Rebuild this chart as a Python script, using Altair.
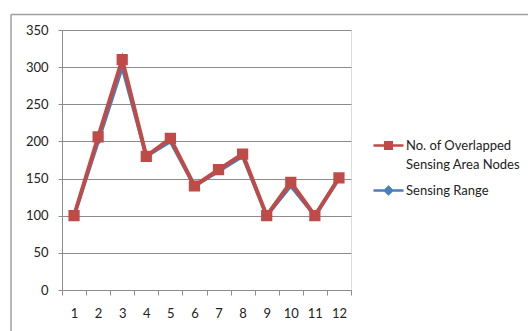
import altair as alt
import pandas as pd

# Node index along the x axis
node_ids = [1, 2, 3, 4, 5, 6, 7, 8, 9, 10, 11, 12]

# Series values
overlapped_nodes = [100, 206, 310, 180, 204, 140, 162, 183, 100, 145, 100, 151]
sensing_range = [100, 200, 300, 180, 200, 140, 160, 180, 100, 140, 100, 150]

SERIES_RED = "No. of Overlapped Sensing Area Nodes"
SERIES_BLUE = "Sensing Range"
RED = "#BE4B48"
BLUE = "#4A7EBB"
GRID = "#8C8C8C"
FONT = "Lato"
TEXT = "#222222"
FONT_SIZE = 13

rows = []
for i, v in zip(node_ids, sensing_range):
    rows.append({"node": i, "value": v, "series": SERIES_BLUE})
for i, v in zip(node_ids, overlapped_nodes):
    rows.append({"node": i, "value": v, "series": SERIES_RED})
df = pd.DataFrame(rows)

# Line-with-marker glyphs; the open horizontal stroke only shows where stroked (legend)
SQUARE_GLYPH = "M-1,0H1M-0.22,-0.22H0.22V0.22H-0.22Z"
DIAMOND_GLYPH = "M-1,0H1M0,-0.24L0.24,0L0,0.24L-0.24,0Z"

DOMAIN = [SERIES_RED, SERIES_BLUE]
color_scale = alt.Scale(domain=DOMAIN, range=[RED, BLUE])
shape_scale = alt.Scale(domain=DOMAIN, range=[SQUARE_GLYPH, DIAMOND_GLYPH])

x_enc = alt.X(
    "node:O",
    scale=alt.Scale(type="band", paddingInner=0, paddingOuter=0),
    axis=alt.Axis(
        title=None, labelAngle=0, tickBand="extent", tickSize=5, tickColor=GRID,
        domainColor=GRID, labelPadding=12, labelFont=FONT, labelFontSize=FONT_SIZE,
        labelColor=TEXT, grid=False,
    ),
)
y_enc = alt.Y(
    "value:Q",
    scale=alt.Scale(domain=[0, 350], nice=False),
    axis=alt.Axis(
        title=None, values=[0, 50, 100, 150, 200, 250, 300, 350], grid=True,
        gridColor=GRID, gridWidth=1, tickSize=4, tickColor=GRID, domainColor=GRID,
        labelPadding=10, labelFont=FONT, labelFontSize=FONT_SIZE, labelColor=TEXT,
    ),
)

legend = alt.Legend(
    title=None,
    orient="none",
    legendX=310,
    legendY=99,
    padding=0,
    labelFont=FONT,
    labelFontSize=FONT_SIZE,
    labelColor=TEXT,
    labelOffset=1,
    labelBaseline="middle",
    labelLimit=200,
    rowPadding=2,
    symbolSize=900,
    symbolStrokeWidth=2.5,
    symbolOpacity=1,
    labelExpr=(
        "datum.label == 'No. of Overlapped Sensing Area Nodes' ? "
        "['No. of Overlapped', 'Sensing Area Nodes'] : datum.label"
    ),
)


def series_layers(name, width, size):
    base = alt.Chart(df).transform_filter(alt.datum.series == name)
    line = base.mark_line(strokeWidth=width).encode(
        x=x_enc, y=y_enc,
        color=alt.Color("series:N", scale=color_scale, legend=None),
    )
    pts = base.mark_point(filled=True, opacity=1, size=size, strokeWidth=0).encode(
        x=x_enc, y=y_enc,
        color=alt.Color("series:N", scale=color_scale, legend=None),
        shape=alt.Shape("series:N", scale=shape_scale, legend=None),
    )
    return [line, pts]


# Legend carrier: no rows drawn, domains are explicit
legend_layer = (
    alt.Chart(df)
    .transform_filter("false")
    .mark_point(filled=True, opacity=1, strokeWidth=2.5)
    .encode(
        x=x_enc, y=y_enc,
        color=alt.Color("series:N", scale=color_scale, legend=legend),
        stroke=alt.Stroke("series:N", scale=color_scale, legend=legend),
        shape=alt.Shape("series:N", scale=shape_scale, legend=legend),
    )
)

# Outer chart frame
frame_df = pd.DataFrame({"k": [0]})
frame_left = alt.Chart(frame_df).mark_rule(color="#A0A0A0", strokeWidth=1.5).encode(
    x=alt.value(-51), y=alt.value(-15.5), y2=alt.value(301)
)
frame_top = alt.Chart(frame_df).mark_rule(color="#A0A0A0", strokeWidth=1.5).encode(
    x=alt.value(-51), x2=alt.value(466), y=alt.value(-15.5)
)

layers = (
    [legend_layer, frame_left, frame_top]
    + series_layers(SERIES_BLUE, 3.5, 900)
    + series_layers(SERIES_RED, 4, 2600)
)

chart = (
    alt.layer(*layers)
    .properties(
        width=289,
        height=260,
        autosize=alt.AutoSizeParams(type="none"),
        padding={"left": 62, "top": 30, "right": 177, "bottom": 41},
        background="white",
    )
    .configure_view(stroke=None)
    .configure(style={"guide-label": {"lineHeight": 19}})
)

chart.save("out.html", embed_options={"renderer": "svg", "actions": False})
